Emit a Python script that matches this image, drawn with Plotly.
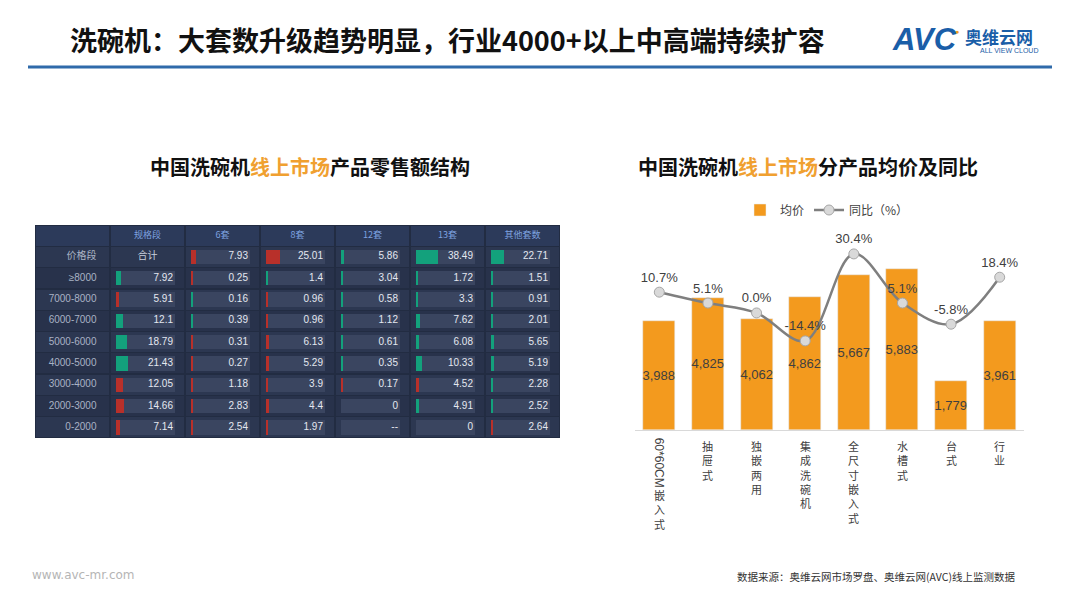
import plotly.graph_objects as go

# ---------------- data: right chart ----------------
categories = ["60*60CM嵌入式", "抽屉式", "独嵌两用", "集成洗碗机", "全尺寸嵌入式", "水槽式", "台式", "行业"]
avg_price = [3988, 4825, 4062, 4862, 5667, 5883, 1779, 3961]
yoy_pct = [10.7, 5.1, 0.0, -14.4, 30.4, 5.1, -5.8, 18.4]

# ---------------- data: left table ----------------
col_headers = ["规格段", "6套", "8套", "12套", "13套", "其他套数"]
row_labels = ["≥8000", "7000-8000", "6000-7000", "5000-6000", "4000-5000", "3000-4000", "2000-3000", "0-2000"]
total_row = [7.93, 25.01, 5.86, 38.49, 22.71]
total_row_trend = [-1, -1, 1, 1, 1]
total_col = [7.92, 5.91, 12.1, 18.79, 21.43, 12.05, 14.66, 7.14]
total_col_trend = [1, -1, 1, 1, 1, -1, -1, -1]
set_6 = [0.25, 0.16, 0.39, 0.31, 0.27, 1.18, 2.83, 2.54]
set_6_trend = [-1, 1, 1, -1, -1, -1, -1, -1]
set_8 = [1.4, 0.96, 0.96, 6.13, 5.29, 3.9, 4.4, 1.97]
set_8_trend = [1, -1, -1, -1, -1, -1, -1, -1]
set_12 = [3.04, 0.58, 1.12, 0.61, 0.35, 0.17, 0, None]
set_12_trend = [1, 1, 1, 1, 1, -1, 0, 0]
set_13 = [1.72, 3.3, 7.62, 6.08, 10.33, 4.52, 4.91, 0]
set_13_trend = [1, 1, 1, 1, 1, -1, 1, 0]
set_other = [1.51, 0.91, 2.01, 5.65, 5.19, 2.28, 2.52, 2.64]
set_other_trend = [1, 1, 1, 1, 1, 1, 1, -1]

CJK = "Noto Sans CJK SC, Microsoft YaHei, sans-serif"
LAT = "Liberation Sans, Arial, Noto Sans CJK SC, sans-serif"
ORANGE = "#F39A1E"
GREEN = "#13a17c"
RED = "#b8302a"

fig = go.Figure()

# ---------------- right chart ----------------
fig.add_trace(go.Bar(
    x=list(range(len(categories))), y=avg_price, name="均价",
    marker_color=ORANGE, width=0.66,
    text=[f"{v:,}" for v in avg_price], textposition="inside",
    insidetextanchor="middle", textangle=0, constraintext="none",
    textfont=dict(family=LAT, size=13, color="#404040"),
    xaxis="x", yaxis="y", showlegend=True,
))
fig.add_trace(go.Scatter(
    x=list(range(len(categories))), y=yoy_pct, name="同比（%）",
    mode="lines+markers+text", cliponaxis=False,
    line=dict(color="#7f7f7f", width=2.5, shape="spline", smoothing=1.0),
    marker=dict(size=10, color="#d9d9d9", line=dict(color="#a6a6a6", width=1)),
    text=[f"{v:.1f}%" for v in yoy_pct], textposition="top center",
    textfont=dict(family=LAT, size=13, color="#404040"),
    xaxis="x", yaxis="y2", showlegend=True,
))

# ---------------- left table (hidden axes x3/y3) ----------------
NCOL = 7
fig.add_trace(go.Bar(orientation="h", y=[4.5], x=[NCOL], base=[-0.5], width=[10],
                     marker=dict(color="#222c42", line=dict(width=0)),
                     xaxis="x3", yaxis="y3", showlegend=False, hoverinfo="skip"))
cb_y, cb_x, cb_base, cb_col = [], [], [], []
for r in range(10):
    for c in range(NCOL):
        cb_y.append(r); cb_x.append(0.98); cb_base.append(c - 0.49)
        if r == 0:
            cb_col.append("#2c3a5a")
        else:
            cb_col.append("#2c3751" if r % 2 == 1 else "#28324b")
fig.add_trace(go.Bar(orientation="h", y=cb_y, x=cb_x, base=cb_base, width=0.94,
                     marker=dict(color=cb_col, line=dict(width=0)),
                     xaxis="x3", yaxis="y3", showlegend=False, hoverinfo="skip"))

cells = []  # (row, col, value, trend)
for i, (v, t) in enumerate(zip(total_row, total_row_trend)):
    cells.append((1, i + 2, v, t))
columns = [(total_col, total_col_trend), (set_6, set_6_trend), (set_8, set_8_trend),
           (set_12, set_12_trend), (set_13, set_13_trend), (set_other, set_other_trend)]
for ci, (vals, trs) in enumerate(columns):
    for ri, (v, t) in enumerate(zip(vals, trs)):
        cells.append((ri + 2, ci + 1, v, t))

fig.add_trace(go.Bar(orientation="h",
                     y=[c[0] for c in cells], x=[0.79] * len(cells),
                     base=[c[1] - 0.42 for c in cells], width=0.68,
                     marker=dict(color="#3a4560", line=dict(width=0)),
                     xaxis="x3", yaxis="y3", showlegend=False, hoverinfo="skip"))
SCALE = 0.0076
ib = [c for c in cells if c[3] != 0 and c[2]]
fig.add_trace(go.Bar(orientation="h",
                     y=[c[0] for c in ib],
                     x=[max(c[2] * SCALE, 0.022) for c in ib],
                     base=[c[1] - 0.42 for c in ib], width=0.68,
                     marker=dict(color=[GREEN if c[3] > 0 else RED for c in ib], line=dict(width=0)),
                     xaxis="x3", yaxis="y3", showlegend=False, hoverinfo="skip"))
fig.add_trace(go.Scatter(
    mode="text", x=[c[1] + 0.34 for c in cells], y=[c[0] for c in cells],
    text=[("--" if c[2] is None else f"{c[2]:g}") for c in cells],
    textposition="middle left",
    textfont=dict(family=LAT, size=10, color="#e4e8f0"),
    xaxis="x3", yaxis="y3", showlegend=False, hoverinfo="skip"))
fig.add_trace(go.Scatter(
    mode="text", x=list(range(1, NCOL)), y=[0] * (NCOL - 1), text=col_headers,
    textposition="middle center",
    textfont=dict(family=CJK, size=9, color="#7ea2e0"),
    xaxis="x3", yaxis="y3", showlegend=False, hoverinfo="skip"))
fig.add_trace(go.Scatter(
    mode="text", x=[0.32] * (len(row_labels) + 1), y=list(range(1, len(row_labels) + 2)),
    text=["价格段"] + row_labels, textposition="middle left",
    textfont=dict(family=LAT, size=10, color="#a9b2c4"),
    xaxis="x3", yaxis="y3", showlegend=False, hoverinfo="skip"))
fig.add_trace(go.Scatter(
    mode="text", x=[1], y=[1], text=["合计"], textposition="middle center",
    textfont=dict(family=CJK, size=10, color="#c9d0dc"),
    xaxis="x3", yaxis="y3", showlegend=False, hoverinfo="skip"))

# ---------------- annotations ----------------
ann = []
ann.append(dict(text="<b>洗碗机：大套数升级趋势明显，行业4000+以上中高端持续扩容</b>",
                x=68 / 1080, y=1 - 39 / 608, xref="paper", yref="paper",
                xanchor="left", yanchor="middle", showarrow=False,
                font=dict(family=CJK, size=27, color="#111111")))
ann.append(dict(text="<b><i>AVC</i></b>", x=890 / 1080, y=1 - 40 / 608, xref="paper", yref="paper",
                xanchor="left", yanchor="middle", showarrow=False,
                font=dict(family=LAT, size=31, color="#1a5ea8")))
ann.append(dict(text="●", x=957 / 1080, y=1 - 31 / 608, xref="paper", yref="paper",
                xanchor="center", yanchor="middle", showarrow=False,
                font=dict(family=LAT, size=7, color="#f39a1e")))
ann.append(dict(text="<b>奥维云网</b>", x=963 / 1080, y=1 - 36 / 608, xref="paper", yref="paper",
                xanchor="left", yanchor="middle", showarrow=False,
                font=dict(family=CJK, size=17, color="#1a5ea8")))
ann.append(dict(text="ALL VIEW CLOUD", x=1009 / 1080, y=1 - 51 / 608, xref="paper", yref="paper",
                xanchor="center", yanchor="middle", showarrow=False,
                font=dict(family=LAT, size=7, color="#1a5ea8")))
ann.append(dict(text="<b>中国洗碗机<span style='color:#f0a030'>线上市场</span>产品零售额结构</b>",
                x=310 / 1080, y=1 - 166 / 608, xref="paper", yref="paper",
                xanchor="center", yanchor="middle", showarrow=False,
                font=dict(family=CJK, size=20, color="#111111")))
ann.append(dict(text="<b>中国洗碗机<span style='color:#f0a030'>线上市场</span>分产品均价及同比</b>",
                x=808 / 1080, y=1 - 166 / 608, xref="paper", yref="paper",
                xanchor="center", yanchor="middle", showarrow=False,
                font=dict(family=CJK, size=20, color="#111111")))
ann.append(dict(text="www.avc-mr.com", x=30 / 1080, y=1 - 575 / 608, xref="paper", yref="paper",
                xanchor="left", yanchor="middle", showarrow=False,
                font=dict(family="DejaVu Sans, sans-serif", size=12, color="#b5b5b5")))
ann.append(dict(text="数据来源：奥维云网市场罗盘、奥维云网(AVC)线上监测数据", x=735 / 1080, y=1 - 576 / 608,
                xref="paper", yref="paper", xanchor="left", yanchor="middle", showarrow=False,
                font=dict(family=CJK, size=10.5, color="#333333")))

# category labels (vertical, one character per line)
for i, cat in enumerate(categories):
    if i == 0:
        ann.append(dict(text="60*60CM", x=i, y=1 - 436 / 608, xref="x", yref="paper",
                        xanchor="center", yanchor="top", showarrow=False, textangle=90,
                        font=dict(family=LAT, size=12, color="#404040")))
        chars, top = "嵌入式", 485
    else:
        chars, top = cat, 436
    ann.append(dict(text="<br>".join(chars), x=i, y=1 - top / 608, xref="x", yref="paper",
                    xanchor="center", yanchor="top", showarrow=False,
                    font=dict(family=CJK, size=11, color="#404040")))

shapes = [dict(type="line", xref="paper", yref="paper", x0=28 / 1080, x1=1052 / 1080,
               y0=1 - 67 / 608, y1=1 - 67 / 608, line=dict(color="#2f6aaa", width=3))]

fig.update_layout(
    width=1080, height=608, autosize=False,
    margin=dict(l=0, r=0, t=0, b=0),
    paper_bgcolor="white", plot_bgcolor="rgba(0,0,0,0)",
    barmode="overlay", bargap=0,
    annotations=ann, shapes=shapes,
    legend=dict(orientation="h", x=740 / 1080, y=1 - 210 / 608, xanchor="left", yanchor="middle",
                font=dict(family=CJK, size=12, color="#404040"), bgcolor="rgba(0,0,0,0)",
                itemwidth=30, traceorder="normal"),
    xaxis=dict(domain=[635 / 1080, 1024 / 1080], range=[-0.5, 7.5], showticklabels=False,
               showgrid=False, zeroline=False, showline=True, linecolor="#d9d9d9", linewidth=1,
               ticks="", fixedrange=True),
    yaxis=dict(domain=[1 - 430 / 608, 1 - 238 / 608], range=[0, 7000], visible=False,
               showgrid=False, fixedrange=True),
    yaxis2=dict(overlaying="y", range=[-60.3, 38.6], visible=False, showgrid=False,
                fixedrange=True),
    xaxis3=dict(domain=[35 / 1080, 560 / 1080], range=[-0.5, 6.5], visible=False,
                anchor="y3", fixedrange=True),
    yaxis3=dict(domain=[1 - 438 / 608, 1 - 225 / 608], range=[9.5, -0.5], visible=False,
                anchor="x3", fixedrange=True),
    showlegend=True,
)

fig.write_html("out.html")
